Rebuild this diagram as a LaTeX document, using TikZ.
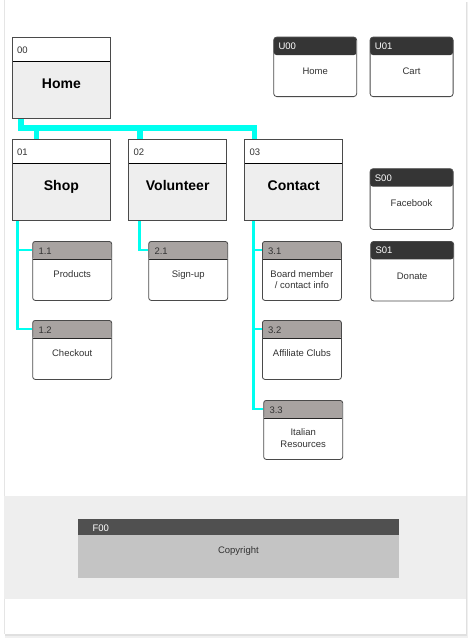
\documentclass[tikz,border=0pt]{standalone}
\usepackage{fontspec}
\setmainfont{Liberation Sans}
\usepackage{xcolor}
\usepackage{tikz}
\usetikzlibrary{positioning, calc, backgrounds}

\definecolor{linkcyan}{HTML}{00FFF0}
\definecolor{mainfill}{HTML}{EEEEEE}
\definecolor{boxline}{HTML}{4A4A4A}
\definecolor{subhead}{HTML}{A8A3A1}
\definecolor{utilhead}{HTML}{353535}
\definecolor{foothead}{HTML}{505050}
\definecolor{footfill}{HTML}{C4C4C4}
\definecolor{bandfill}{HTML}{EEEEEE}
\definecolor{labeltext}{HTML}{333333}

\tikzset{
  mainbox/.style={rectangle, draw=boxline, line width=0.8pt, fill=mainfill, anchor=north west,
    minimum width=98pt, minimum height=81pt, inner sep=0pt,
    path picture={
      \fill[white] (path picture bounding box.north west) rectangle ([yshift=-24pt]path picture bounding box.north east);
      \draw[black, line width=1pt] ([yshift=-24pt]path picture bounding box.north west) -- ([yshift=-24pt]path picture bounding box.north east);
    }},
  subbox/.style={rectangle, draw=boxline, line width=0.8pt, fill=white, anchor=north west,
    rounded corners=2.5pt, minimum width=79pt, minimum height=59pt, inner sep=0pt,
    path picture={
      \fill[subhead] (path picture bounding box.north west) rectangle ([yshift=-18pt]path picture bounding box.north east);
      \draw[black!85, line width=0.9pt] ([yshift=-18pt]path picture bounding box.north west) -- ([yshift=-18pt]path picture bounding box.north east);
    }},
  utilbox/.style={rectangle, draw=boxline, line width=0.8pt, fill=white, anchor=north west,
    rounded corners=3pt, minimum width=83pt, minimum height=59.5pt, inner sep=0pt,
    path picture={
      \fill[utilhead] (path picture bounding box.north west) rectangle ([yshift=-18pt]path picture bounding box.north east);
    }},
  footbox/.style={rectangle, fill=footfill, anchor=north west,
    minimum width=321pt, minimum height=59.4pt, inner sep=0pt,
    path picture={
      \fill[foothead] (path picture bounding box.north west) rectangle ([yshift=-16.7pt]path picture bounding box.north east);
    }},
  idtag/.style={anchor=base west, inner sep=0pt, text=labeltext, font=\fontsize{9.5}{10}\selectfont},
  utilid/.style={idtag, text=white},
  pagetitle/.style={anchor=base, inner sep=0pt, text=black, font=\fontsize{14}{16}\selectfont\bfseries},
  itemtext/.style={anchor=base, inner sep=0pt, align=center, text=labeltext, font=\fontsize{9.5}{11.5}\selectfont},
  trunk/.style={draw=linkcyan, line width=5.5pt},
  branch/.style={draw=linkcyan, line width=2.6pt}
}

\begin{document}
\begin{tikzpicture}[x=1pt, y=-1pt]
\useasboundingbox (0,0) rectangle (471,643);

% main pages
\node[mainbox] (home) at (12,37) {};
\node[idtag] (home-id) at ([xshift=5pt,yshift=-16.7pt]home.north west) {00};
\node[pagetitle] (home-title) at ([yshift=-51pt]home.north) {Home};

\node[mainbox] (shop) at (12,139) {};
\node[idtag] (shop-id) at ([xshift=5pt,yshift=-16.7pt]shop.north west) {01};
\node[pagetitle] (shop-title) at ([yshift=-51pt]shop.north) {Shop};

\node[mainbox] (volunteer) at (128.3,139) {};
\node[idtag] (volunteer-id) at ([xshift=5pt,yshift=-16.7pt]volunteer.north west) {02};
\node[pagetitle] (volunteer-title) at ([yshift=-51pt]volunteer.north) {Volunteer};

\node[mainbox] (contact) at (244.3,139) {};
\node[idtag] (contact-id) at ([xshift=5pt,yshift=-16.7pt]contact.north west) {03};
\node[pagetitle] (contact-title) at ([yshift=-51pt]contact.north) {Contact};

% sub pages
\node[subbox] (products) at (32.3,241) {};
\node[idtag] (products-id) at ([xshift=6pt,yshift=-13.7pt]products.north west) {1.1};
\node[itemtext] (products-text) at ([yshift=-36pt]products.north) {Products};

\node[subbox] (checkout) at (32.3,320) {};
\node[idtag] (checkout-id) at ([xshift=6pt,yshift=-13.7pt]checkout.north west) {1.2};
\node[itemtext] (checkout-text) at ([yshift=-36pt]checkout.north) {Checkout};

\node[subbox] (signup) at (148.3,241) {};
\node[idtag] (signup-id) at ([xshift=6pt,yshift=-13.7pt]signup.north west) {2.1};
\node[itemtext] (signup-text) at ([yshift=-36pt]signup.north) {Sign-up};

\node[subbox] (board) at (262,241) {};
\node[idtag] (board-id) at ([xshift=6pt,yshift=-13.7pt]board.north west) {3.1};
\node[itemtext] (board-text) at ([yshift=-47.5pt]board.north) {Board member\\/ contact info};

\node[subbox] (clubs) at (262,320) {};
\node[idtag] (clubs-id) at ([xshift=6pt,yshift=-13.7pt]clubs.north west) {3.2};
\node[itemtext] (clubs-text) at ([yshift=-36pt]clubs.north) {Affiliate Clubs};

\node[subbox] (italian) at (263.3,400) {};
\node[idtag] (italian-id) at ([xshift=6pt,yshift=-13.7pt]italian.north west) {3.3};
\node[itemtext] (italian-text) at ([yshift=-47pt]italian.north) {Italian\\Resources};

% utility and social
\node[utilbox] (u-home) at (273.3,36.7) {};
\node[utilid] (u-home-id) at ([xshift=5pt,yshift=-12.5pt]u-home.north west) {U00};
\node[itemtext] (u-home-text) at ([yshift=-37.5pt]u-home.north) {Home};

\node[utilbox] (u-cart) at (369.7,36.7) {};
\node[utilid] (u-cart-id) at ([xshift=5pt,yshift=-12.5pt]u-cart.north west) {U01};
\node[itemtext] (u-cart-text) at ([yshift=-37.5pt]u-cart.north) {Cart};

\node[utilbox, minimum height=60.7pt] (facebook) at (369.7,168.3) {};
\node[utilid] (facebook-id) at ([xshift=5pt,yshift=-13pt]facebook.north west) {S00};
\node[itemtext] (facebook-text) at ([yshift=-38.3pt]facebook.north) {Facebook};

\node[utilbox] (donate) at (370.3,241) {};
\node[utilid] (donate-id) at ([xshift=5pt,yshift=-12.5pt]donate.north west) {S01};
\node[itemtext] (donate-text) at ([yshift=-38.3pt]donate.north) {Donate};

% footer
\node[footbox] (footer) at (77.7,518.3) {};
\node[utilid] (footer-id) at ([xshift=14.7pt,yshift=-12.7pt]footer.north west) {F00};
\node[itemtext] (footer-text) at ([yshift=-35pt]footer.north) {Copyright};

\begin{scope}[on background layer]
% page card
\fill[black!6] (5,2) rectangle (468,638);
\fill[black!12] (5,2) rectangle (467,636);
\fill[white] (4,0) rectangle (466,634);
\draw[black!10, line width=0.6pt] (4,0) -- (4,634);
\fill[bandfill] (4,496) rectangle (466,599);

% links, behind the boxes
\coordinate (home-out) at ([xshift=9pt]home.south west);
\coordinate (bus) at ([yshift=-9.2pt]home-out);
\coordinate (shop-in) at ([xshift=24.7pt]shop.north west);
\coordinate (volunteer-in) at ([xshift=11.7pt]volunteer.north west);
\coordinate (contact-in) at ([xshift=10.2pt]contact.north west);
\draw[trunk] (home-out) |- (contact-in |- bus) -- (contact-in);
\draw[trunk] (shop-in |- bus) -- (shop-in);
\draw[trunk] (volunteer-in |- bus) -- (volunteer-in);

\draw[branch] ([xshift=5.5pt]shop.south west) |- ([yshift=-9pt]products.north west);
\draw[branch] ([xshift=5.5pt]shop.south west) |- ([yshift=-9pt]checkout.north west);
\draw[branch] ([xshift=11pt]volunteer.south west) |- ([yshift=-9pt]signup.north west);
\draw[branch] ([xshift=9pt]contact.south west) |- ([yshift=-9pt]board.north west);
\draw[branch] ([xshift=9pt]contact.south west) |- ([yshift=-9pt]clubs.north west);
\draw[branch] ([xshift=9pt]contact.south west) |- ([yshift=-9pt]italian.north west);
\end{scope}
\end{tikzpicture}
\end{document}
